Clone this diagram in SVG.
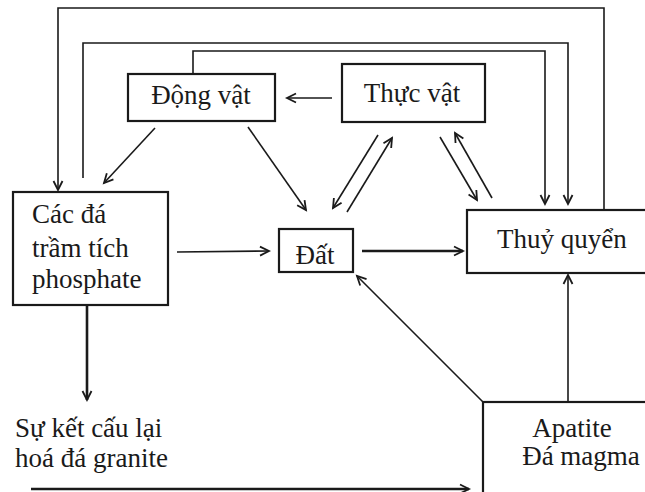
<svg xmlns="http://www.w3.org/2000/svg" width="645" height="492" viewBox="0 0 645 492" font-family="Liberation Serif, DejaVu Serif, serif">
<defs>
<marker id="arr" markerUnits="userSpaceOnUse" markerWidth="12" markerHeight="12" refX="10" refY="5" viewBox="0 0 12 10" orient="auto" overflow="visible">
<path d="M1,0.5 L10,5 L1,9.5" fill="none" stroke="#1a1a1a" stroke-width="1.8"/>
</marker>
</defs>
<style>
.box{fill:#fff;stroke:#1a1a1a;stroke-width:2.2}
.t{font-size:27px;fill:#1a1a1a}
.c{fill:none;stroke:#1a1a1a;stroke-width:1.6}
.th{stroke-width:2.6}
.a{marker-end:url(#arr)}
</style>
<rect width="645" height="492" fill="#fff"/>
<g id="connectors">
<path class="c a" d="M604,210 L604,8 L58,8 L58,190"/>
<path class="c a" d="M83,178 L83,43 L568,43 L568,204"/>
<path class="c a" d="M193,74 L193,51 L545,51 L545,204"/>
<path class="c a" d="M332,98 L287,98"/>
<path class="c a" d="M155,128 L104,183"/>
<path class="c a" d="M248,127 L306,210"/>
<path class="c a" d="M378,135 L333,208"/>
<path class="c a" d="M347,212 L392,138"/>
<path class="c a" d="M440,137 L477,200"/>
<path class="c a" d="M492,198 L455,133"/>
<path class="c a" d="M177,252 L269,251"/>
<path class="c th a" d="M362,251 L463,251"/>
<path class="c a" d="M483,402 L357,276"/>
<path class="c a" d="M568,402 L568,275"/>
<path class="c th a" d="M87,306 L87,400"/>
<path class="c th a" d="M31,489 L469,489"/>
</g>
<g id="dong-vat">
<rect class="box" x="128" y="74" width="147" height="47"/>
<text class="t" x="201" y="104" text-anchor="middle" font-family="Liberation Serif">Động vật</text>
</g>
<g id="thuc-vat">
<rect class="box" x="342" y="64" width="143" height="58"/>
<text class="t" x="412" y="102" text-anchor="middle" font-family="Liberation Serif">Thực vật</text>
</g>
<g id="cac-da">
<rect class="box" x="13" y="192" width="155" height="113"/>
<text class="t" x="32" y="223" font-family="Liberation Serif">Các đá</text>
<text class="t" x="32" y="257" font-family="Liberation Serif">trầm tích</text>
<text class="t" x="32" y="288" font-family="Liberation Serif">phosphate</text>
</g>
<g id="dat">
<rect class="box" x="279" y="229" width="74" height="43"/>
<text class="t" x="315" y="264" text-anchor="middle" font-family="Liberation Serif">Đất</text>
</g>
<g id="thuy-quyen">
<rect class="box" x="467" y="210" width="190" height="63"/>
<text class="t" x="497" y="248" font-family="Liberation Serif">Thuỷ quyển</text>
</g>
<g id="su-ket-cau">
<text class="t" x="15" y="437" font-family="Liberation Serif">Sự kết cấu lại</text>
<text class="t" x="15" y="467" font-family="Liberation Serif">hoá đá granite</text>
</g>
<g id="apatite">
<rect class="box" x="483" y="402" width="180" height="100"/>
<text class="t" x="572" y="437" text-anchor="middle" font-family="Liberation Serif">Apatite</text>
<text class="t" x="581" y="465" text-anchor="middle" font-family="Liberation Serif">Đá magma</text>
</g>
</svg>
